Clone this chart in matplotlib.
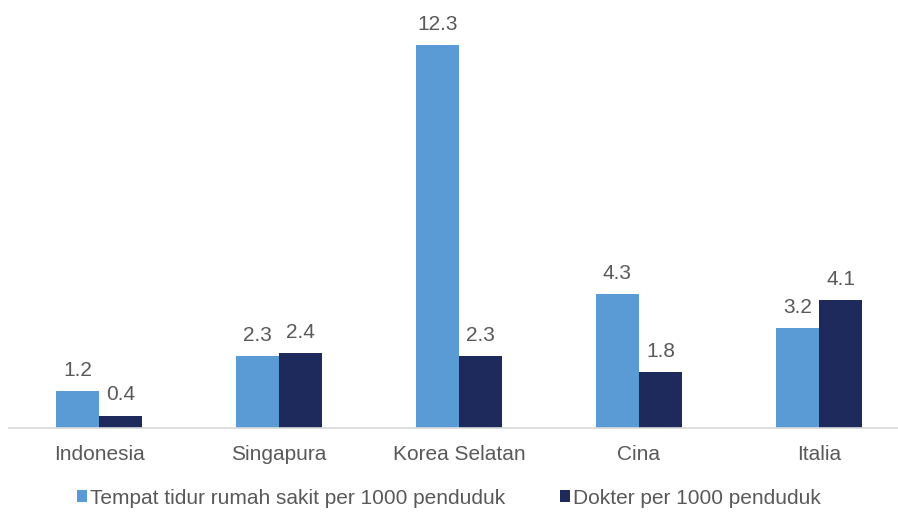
import numpy as np
import matplotlib.pyplot as plt

countries = ['Indonesia', 'Singapura', 'Korea Selatan', 'Cina', 'Italia']
beds = [1.2, 2.3, 12.3, 4.3, 3.2]
doctors = [0.4, 2.4, 2.3, 1.8, 4.1]
series_names = ['Tempat tidur rumah sakit per 1000 penduduk', 'Dokter per 1000 penduduk']

plt.rcParams['font.family'] = ['Liberation Sans', 'DejaVu Sans']

W, H = 898, 514
fig = plt.figure(figsize=(W / 100, H / 100), dpi=100)
# axes box in pixel terms: left 9, right 909, top 30, bottom 428
ax = fig.add_axes([9 / W, (H - 428) / H, 900 / W, (428 - 30) / H])

x = np.arange(len(countries))
w = 0.24
c1 = '#5b9bd5'
c2 = '#1f2a5c'
fs = 15
b1 = ax.bar(x - w / 2, beds, w, color=c1, label=series_names[0])
b2 = ax.bar(x + w / 2, doctors, w, color=c2, label=series_names[1])

for bars, vals in ((b1, beds), (b2, doctors)):
    for r, v in zip(bars, vals):
        ax.annotate(f'{v:.1f}', (r.get_x() + r.get_width() / 2, v),
                    xytext=(0, 8), textcoords='offset points',
                    ha='center', va='bottom', fontsize=fs, color='#595959')

ax.set_xlim(-0.5, 4.5)
ax.set_ylim(0, 12.78)
ax.set_xticks(x)
ax.set_xticklabels(countries, fontsize=fs, color='#595959')
ax.tick_params(axis='x', length=0, pad=12)
ax.set_yticks([])
for s in ['top', 'right', 'left']:
    ax.spines[s].set_visible(False)
ax.spines['bottom'].set_color('#d9d9d9')
ax.spines['bottom'].set_linewidth(1.2)

leg = fig.legend(loc='center', bbox_to_anchor=(0.5, (H - 498) / H), ncol=2,
                 frameon=False, fontsize=fs, handlelength=0.5, handleheight=0.5,
                 handletextpad=0.15, columnspacing=2.6)
for t in leg.get_texts():
    t.set_color('#595959')

fig.savefig('out.png', dpi=100)
